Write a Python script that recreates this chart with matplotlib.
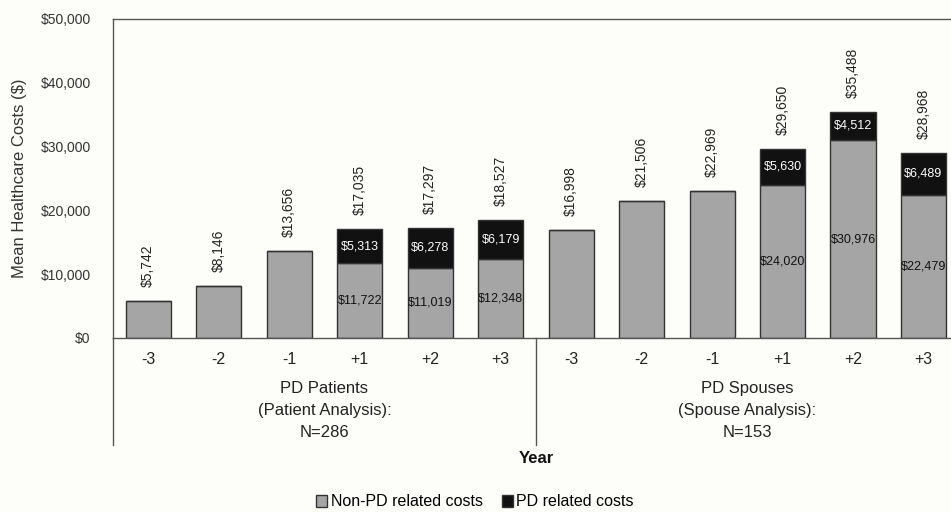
import matplotlib.pyplot as plt
import numpy as np

plt.rcParams['font.family'] = ['Liberation Sans', 'DejaVu Sans']

years = ['-3', '-2', '-1', '+1', '+2', '+3', '-3', '-2', '-1', '+1', '+2', '+3']
non_pd = [5742, 8146, 13656, 11722, 11019, 12348, 16998, 21506, 22969, 24020, 30976, 22479]
pd_rel = [0, 0, 0, 5313, 6278, 6179, 0, 0, 0, 5630, 4512, 6489]
totals = [5742, 8146, 13656, 17035, 17297, 18527, 16998, 21506, 22969, 29650, 35488, 28968]
groups = ['PD Patients\n(Patient Analysis):\nN=286', 'PD Spouses\n(Spouse Analysis):\nN=153']

bg = '#fdfdfa'
fig = plt.figure(figsize=(9.51, 5.12), dpi=100, facecolor=bg)
ax = fig.add_axes([113 / 951, 1 - 338 / 512, 1 - 113 / 951, 319 / 512])
ax.set_facecolor(bg)

x = np.arange(len(years))
w = 0.64
ax.bar(x, non_pd, w, color='#a5a5a5', edgecolor='#333333', linewidth=1, label='Non-PD related costs')
ax.bar(x, pd_rel, w, bottom=non_pd, color='#111111', edgecolor='#333333', linewidth=1, label='PD related costs')

for i in range(len(x)):
    ax.text(x[i], totals[i] + 2200, '${:,}'.format(totals[i]), rotation=90,
            ha='center', va='bottom', fontsize=10, color='#222222')
    if pd_rel[i] > 0:
        ax.text(x[i], non_pd[i] / 2, '${:,}'.format(non_pd[i]), ha='center', va='center',
                fontsize=9, color='#111111')
        ax.text(x[i], non_pd[i] + pd_rel[i] / 2, '${:,}'.format(pd_rel[i]), ha='center',
                va='center', fontsize=9, color='white')

ax.set_ylim(0, 50000)
ax.set_xlim(-0.5, 11.39)
ax.set_yticks(np.arange(0, 50001, 10000))
ax.set_yticklabels(['${:,}'.format(v) for v in range(0, 50001, 10000)], fontsize=10, color='#333333')
ax.set_xticks(x)
ax.set_xticklabels(years, fontsize=11.5, color='#222222')
ax.tick_params(length=0, pad=10)
ax.tick_params(axis='y', pad=16)
ax.spines['right'].set_visible(False)
for s in ['top', 'left', 'bottom']:
    ax.spines[s].set_color('#555555')
    ax.spines[s].set_linewidth(1)

ax.set_ylabel('Mean Healthcare Costs ($)', fontsize=12, color='#333333', labelpad=10)

# group separators below the axis
tr = ax.get_xaxis_transform()
for xs in [-0.5, 5.5]:
    ax.plot([xs, xs], [0, -0.335], transform=tr, color='#555555', linewidth=1, clip_on=False)
ax.text(2.5, -0.227, groups[0], transform=tr, ha='center', va='center', fontsize=12,
        color='#222222', linespacing=1.55)
ax.text(8.5, -0.227, groups[1], transform=tr, ha='center', va='center', fontsize=12,
        color='#222222', linespacing=1.55)
ax.text(5.5, -0.378, 'Year', transform=tr, ha='center', va='center', fontsize=12,
        fontweight='bold', color='#111111')

fig.legend(loc='center', bbox_to_anchor=(475 / 951, 1 - 502 / 512), ncol=2, frameon=False,
           fontsize=11.5, handlelength=0.7, handleheight=0.7, handletextpad=0.2, columnspacing=1.2)

plt.savefig('out.png', dpi=100, facecolor=bg)
